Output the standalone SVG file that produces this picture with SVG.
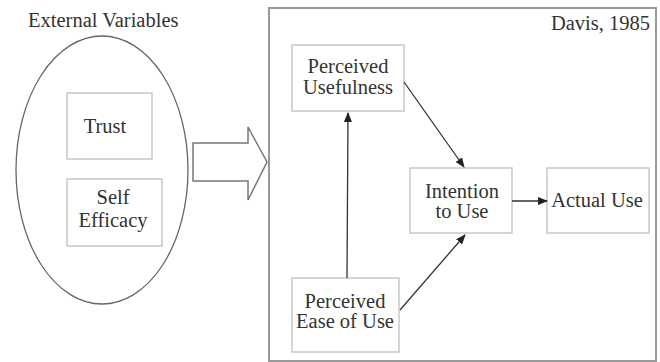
<svg xmlns="http://www.w3.org/2000/svg" width="660" height="362" viewBox="0 0 660 362" font-family="Liberation Serif">
<defs>
<marker id="ah" markerWidth="10" markerHeight="8" refX="9" refY="4" orient="auto" markerUnits="userSpaceOnUse">
<path d="M0,0 L10,4 L0,8 Z" fill="#222"/>
</marker>
</defs>
<rect width="660" height="362" fill="#fff"/>
<g id="external">
<text x="28" y="27" font-family="Liberation Serif" font-size="20.5" fill="#333">External Variables</text>
<ellipse cx="102" cy="170" rx="86" ry="134" fill="#fff" stroke="#666" stroke-width="1.3"/>
</g>
<g id="trust">
<rect x="67" y="93" width="85" height="66" fill="#fff" stroke="#c8c8c8" stroke-width="1.5"/>
<text x="105" y="133" font-family="Liberation Serif" font-size="20.5" fill="#333" text-anchor="middle">Trust</text>
</g>
<g id="self-efficacy">
<rect x="67" y="179" width="95" height="67" fill="#fff" stroke="#c8c8c8" stroke-width="1.5"/>
<text x="113" y="204" font-family="Liberation Serif" font-size="20.5" fill="#333" text-anchor="middle">Self</text>
<text x="113" y="227" font-family="Liberation Serif" font-size="20.5" fill="#333" text-anchor="middle">Efficacy</text>
</g>
<g id="block-arrow">
<path d="M193,143 L248,143 L248,127 L267,162 L248,200 L248,181 L193,181 Z" fill="#fff" stroke="#777" stroke-width="1.5"/>
</g>
<g id="davis">
<rect x="269" y="8" width="387" height="353" fill="none" stroke="#999" stroke-width="2"/>
<text x="650" y="30" font-family="Liberation Serif" font-size="20.5" fill="#333" text-anchor="end">Davis, 1985</text>
</g>
<g id="pu">
<rect x="292" y="45" width="112" height="66" fill="#fff" stroke="#c8c8c8" stroke-width="1.5"/>
<text x="348" y="73" font-family="Liberation Serif" font-size="20.5" fill="#333" text-anchor="middle">Perceived</text>
<text x="348" y="94" font-family="Liberation Serif" font-size="20.5" fill="#333" text-anchor="middle">Usefulness</text>
</g>
<g id="intention">
<rect x="410" y="168" width="102" height="65" fill="#fff" stroke="#c8c8c8" stroke-width="1.5"/>
<text x="462" y="198" font-family="Liberation Serif" font-size="20.5" fill="#333" text-anchor="middle">Intention</text>
<text x="462" y="218" font-family="Liberation Serif" font-size="20.5" fill="#333" text-anchor="middle">to Use</text>
</g>
<g id="actual">
<rect x="547" y="168" width="102" height="65" fill="#fff" stroke="#c8c8c8" stroke-width="1.5"/>
<text x="597" y="207" font-family="Liberation Serif" font-size="20.5" fill="#333" text-anchor="middle">Actual Use</text>
</g>
<g id="peou">
<rect x="292" y="278" width="107" height="74" fill="#fff" stroke="#c8c8c8" stroke-width="1.5"/>
<text x="345" y="308" font-family="Liberation Serif" font-size="20.5" fill="#333" text-anchor="middle">Perceived</text>
<text x="345" y="328" font-family="Liberation Serif" font-size="20.5" fill="#333" text-anchor="middle">Ease of Use</text>
</g>
<g id="connectors" stroke="#333" stroke-width="1.3" fill="none">
<line x1="404" y1="82" x2="464" y2="167" marker-end="url(#ah)"/>
<line x1="347" y1="278" x2="348" y2="113" marker-end="url(#ah)"/>
<line x1="400" y1="310" x2="465" y2="235" marker-end="url(#ah)"/>
<line x1="512" y1="201" x2="547" y2="201" marker-end="url(#ah)"/>
</g>
</svg>
